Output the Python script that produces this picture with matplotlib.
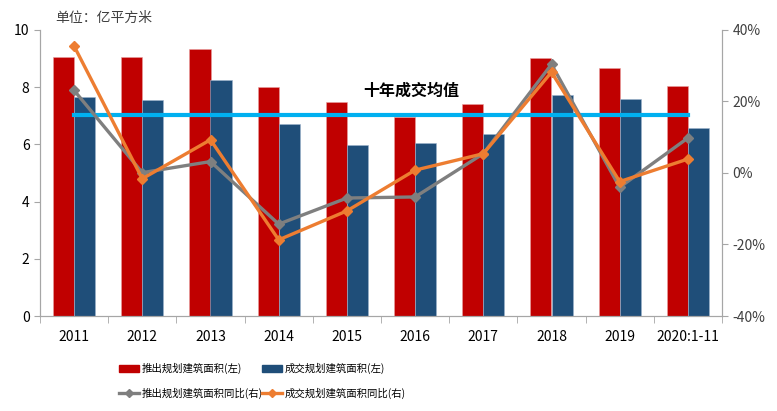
import numpy as np
import matplotlib.pyplot as plt
from matplotlib.patches import Patch
from matplotlib.lines import Line2D

plt.rcParams['font.family'] = ['Noto Sans CJK SC', 'DejaVu Sans']

# 数据
years = ['2011', '2012', '2013', '2014', '2015', '2016', '2017', '2018', '2019', '2020:1-11']
tuichu = [9.06, 9.06, 9.34, 8.02, 7.48, 6.97, 7.41, 9.03, 8.67, 8.04]      # 推出规划建筑面积
chengjiao = [7.66, 7.55, 8.25, 6.71, 5.99, 6.05, 6.38, 7.74, 7.58, 6.57]   # 成交规划建筑面积
tuichu_yoy = [23.1, 0.1, 3.2, -14.3, -7.0, -6.7, 5.4, 30.4, -4.0, 9.8]     # 同比 %
chengjiao_yoy = [35.5, -1.6, 9.3, -18.7, -10.6, 0.8, 5.4, 28.2, -2.4, 3.9]
avg_val = 7.03  # 十年成交均值

c_red = '#C00000'
c_blue = '#1F4E79'
c_gray = '#7F7F7F'
c_orange = '#ED7D31'
c_cyan = '#00B0F0'

fig = plt.figure(figsize=(7.77, 4.11), dpi=100)
ax = fig.add_axes([40/777, 1-316/411, 682/777, 286/411])
ax2 = ax.twinx()

x = np.arange(len(years))
w = 0.31
ax.bar(x - w/2, tuichu, w, color=c_red, edgecolor='#E8A0A0', linewidth=0.4, zorder=2)
ax.bar(x + w/2, chengjiao, w, color=c_blue, edgecolor='#9DB3CC', linewidth=0.4, zorder=2)
ax.plot([x[0], x[-1]], [avg_val, avg_val], color=c_cyan, lw=3, zorder=3)
ax.text(4.95, 7.88, '十年成交均值', fontsize=11.5, fontweight='bold', ha='center', va='center', zorder=5)

ax2.plot(x, tuichu_yoy, color=c_gray, lw=2.4, marker='D', ms=5, zorder=4)
ax2.plot(x, chengjiao_yoy, color=c_orange, lw=2.4, marker='D', ms=5, zorder=4)

ax.set_xlim(-0.5, 9.5)
ax.set_ylim(0, 10)
ax.set_yticks([0, 2, 4, 6, 8, 10])
ax2.set_ylim(-40, 40)
ax2.set_yticks([-40, -20, 0, 20, 40])
ax2.set_yticklabels(['-40%', '-20%', '0%', '20%', '40%'])

ax.set_xticks(x)
ax.set_xticklabels(years)
ax.set_xticks(np.arange(-0.5, 10, 1), minor=True)
ax.tick_params(axis='x', which='major', length=0, pad=10, labelsize=10)
ax.tick_params(axis='x', which='minor', length=5, color='#A6A6A6')
ax.tick_params(axis='y', length=4, color='#A6A6A6', labelsize=10)
ax2.tick_params(axis='y', length=4, color='#A6A6A6', labelsize=10, labelcolor='#404040')

for a in (ax, ax2):
    a.spines['top'].set_visible(False)
    for s in ('left', 'right', 'bottom'):
        a.spines[s].set_color('#A6A6A6')
ax.patch.set_visible(False)
ax2.patch.set_visible(False)
ax.set_zorder(1)
ax2.set_zorder(2)

fig.text(55/777, 1-18/411, '单位：亿平方米', fontsize=10, color='#404040', va='center')

# 图例：两列，手动定位
leg_kw = dict(frameon=False, fontsize=7.5, handlelength=1.9, handletextpad=0.3,
              labelspacing=1.25, borderpad=0, borderaxespad=0, loc='center left')
leg1 = fig.legend([Patch(color=c_red), Line2D([], [], color=c_gray, lw=2.4, marker='D', ms=4)],
                  ['推出规划建筑面积(左)', '推出规划建筑面积同比(右)'],
                  bbox_to_anchor=(119/777, 1-381/411), **leg_kw)
leg2 = fig.legend([Patch(color=c_blue), Line2D([], [], color=c_orange, lw=2.4, marker='D', ms=4)],
                  ['成交规划建筑面积(左)', '成交规划建筑面积同比(右)'],
                  bbox_to_anchor=(262/777, 1-381/411), **leg_kw)

fig.savefig('out.png', dpi=100)
